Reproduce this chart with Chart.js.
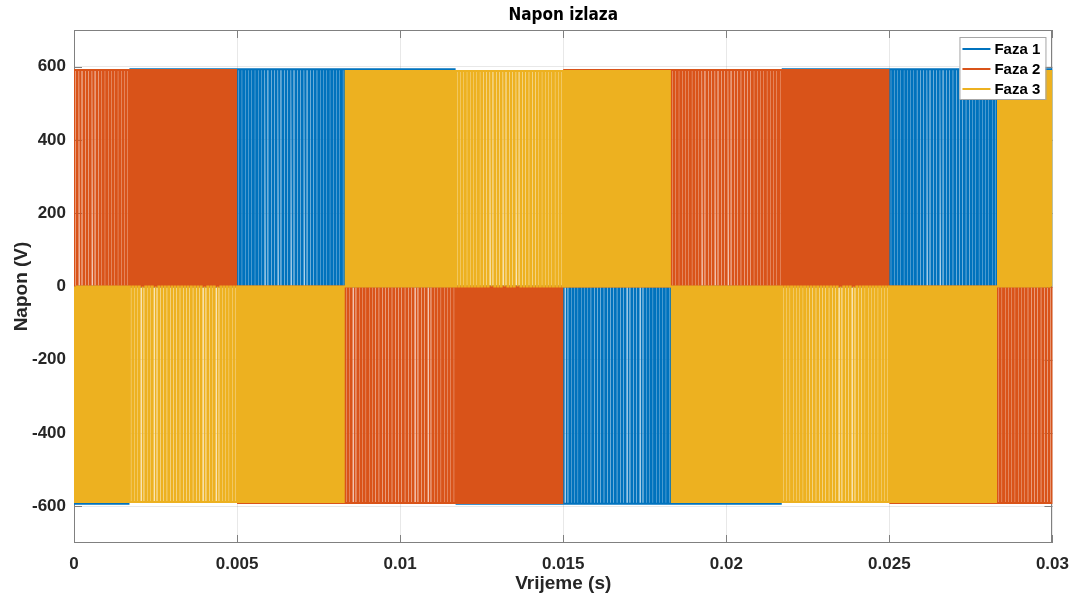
<!DOCTYPE html>
<html>
<head>
<meta charset="utf-8">
<title>Napon izlaza</title>
<script src="https://cdn.jsdelivr.net/npm/chart.js@4.4.1/dist/chart.umd.min.js"></script>
<style>
  html, body { margin: 0; padding: 0; background: #fff; }
  #wrap { width: 1080px; height: 597px; position: relative; }
</style>
</head>
<body>
<div id="wrap"><canvas id="naponChart"></canvas></div>
<script>
// ============================================
// Napon izlaza — three phase PWM output voltage
// ============================================

// values
const PHASE_NAMES = ['Faza 1', 'Faza 2', 'Faza 3'];
const PHASE_COLORS = ['#0072BD', '#D95319', '#EDB120'];

// zero crossings of each phase (s), and the sign of the half cycle that follows each one
const FAZA1_ZEROS = [-0.00833, 0.00167, 0.01167, 0.02167, 0.03167];
const FAZA1_SIGNS = [-1, 1, -1, 1];
const FAZA2_ZEROS = [-0.005, 0.005, 0.015, 0.025, 0.035];
const FAZA2_SIGNS = [1, -1, 1, -1];
const FAZA3_ZEROS = [-0.00165, 0.00835, 0.01835, 0.02835, 0.03835];
const FAZA3_SIGNS = [-1, 1, -1, 1];

const PHASE_AMPLITUDE = [593, 591, 588];   // V, pulse height of each phase
const SWITCH_PERIOD = 0.0001;              // s, spacing of the stripes
// estimated pulse width (fraction of a switching period) across one half cycle:
// dense in the outer thirds, lightly striped in the middle third
const HALF_CYCLE_DUTY = [0.4, 0.5, 0.5, 0.55, 0.7, 0.74, 0.74, 0.7, 0.55, 0.5, 0.5, 0.4];

const X_TICKS = [0, 0.005, 0.01, 0.015, 0.02, 0.025, 0.03];
const Y_TICKS = [-600, -400, -200, 0, 200, 400, 600];

const FONT = "'Liberation Sans', Arial, Helvetica, sans-serif";
const TEXT_COLOR = '#262626';
const AXIS_COLOR = '#808080';

// pulse train of one phase, built from the values above
function buildPulses(zeros, signs, amp) {
  const pts = [{ x: 0, y: 0 }];
  const n = Math.round(X_TICKS[X_TICKS.length - 1] / SWITCH_PERIOD);
  for (let k = 0; k < n; k++) {
    const tc = (k + 0.5) * SWITCH_PERIOD;
    let i = 0;
    while (i < signs.length - 1 && tc >= zeros[i + 1]) i++;
    const pos = (tc - zeros[i]) / (zeros[i + 1] - zeros[i]);
    const d = HALF_CYCLE_DUTY[Math.min(HALF_CYCLE_DUTY.length - 1, Math.floor(pos * HALF_CYCLE_DUTY.length))];
    const v = signs[i] * amp;
    const a = tc - d * SWITCH_PERIOD / 2;
    const b = tc + d * SWITCH_PERIOD / 2;
    pts.push({ x: a, y: 0 }, { x: a, y: v }, { x: b, y: v }, { x: b, y: 0 });
  }
  return pts;
}

const traces = [
  buildPulses(FAZA1_ZEROS, FAZA1_SIGNS, PHASE_AMPLITUDE[0]),
  buildPulses(FAZA2_ZEROS, FAZA2_SIGNS, PHASE_AMPLITUDE[1]),
  buildPulses(FAZA3_ZEROS, FAZA3_SIGNS, PHASE_AMPLITUDE[2])
];

// box and inward tick marks, MATLAB style
const axesBox = {
  id: 'axesBox',
  beforeDatasetsDraw(chart) {
    const { ctx, chartArea: a, scales } = chart;
    ctx.save();
    ctx.strokeStyle = AXIS_COLOR;
    ctx.lineWidth = 1;
    ctx.beginPath();
    X_TICKS.forEach(v => {
      const x = Math.round(scales.x.getPixelForValue(v)) + 0.5;
      ctx.moveTo(x, a.bottom); ctx.lineTo(x, a.bottom - 8);
      ctx.moveTo(x, a.top); ctx.lineTo(x, a.top + 8);
    });
    Y_TICKS.forEach(v => {
      const y = Math.round(scales.y.getPixelForValue(v)) + 0.5;
      ctx.moveTo(a.left, y); ctx.lineTo(a.left + 8, y);
      ctx.moveTo(a.right, y); ctx.lineTo(a.right - 8, y);
    });
    ctx.stroke();
    ctx.strokeRect(Math.round(a.left) + 0.5, Math.round(a.top) + 0.5,
                   Math.round(a.width) - 1, Math.round(a.height) - 1);
    ctx.restore();
  }
};

// legend box in the top right corner
const boxLegend = {
  id: 'boxLegend',
  afterDraw(chart) {
    const { ctx, chartArea: a } = chart;
    const w = 86, h = 62;
    const x0 = a.right - 93, y0 = a.top + 7;
    ctx.save();
    ctx.fillStyle = '#fff';
    ctx.fillRect(x0, y0, w, h);
    ctx.strokeStyle = '#a6a6a6';
    ctx.lineWidth = 1;
    ctx.strokeRect(x0 + 0.5, y0 + 0.5, w, h);
    ctx.font = 'bold 15px ' + FONT;
    ctx.textBaseline = 'middle';
    PHASE_NAMES.forEach((name, i) => {
      const y = y0 + 12 + i * 20;
      ctx.strokeStyle = PHASE_COLORS[i];
      ctx.lineWidth = 2;
      ctx.beginPath();
      ctx.moveTo(x0 + 3, y); ctx.lineTo(x0 + 31, y);
      ctx.stroke();
      ctx.fillStyle = '#000';
      ctx.fillText(name, x0 + 35, y + 1);
    });
    ctx.restore();
  }
};

new Chart(document.getElementById('naponChart'), {
  type: 'line',
  data: {
    datasets: PHASE_NAMES.map((name, i) => ({
      label: name,
      data: traces[i],
      borderColor: PHASE_COLORS[i],
      borderWidth: 2,
      pointRadius: 0,
      tension: 0,
      fill: false,
      order: 3 - i
    }))
  },
  options: {
    responsive: true,
    maintainAspectRatio: false,
    animation: false,
    parsing: false,
    normalized: true,
    layout: { padding: { left: 0, right: 23, top: 0, bottom: 0 } },
    plugins: {
      legend: { display: false },
      tooltip: { enabled: false },
      title: {
        display: true,
        text: 'Napon izlaza',
        fullSize: false,
        color: '#000',
        font: { family: "'Liberation Sans Narrow', 'DejaVu Sans Condensed', " + FONT, size: 17, weight: 'bold' },
        padding: { top: 5, bottom: 4.6 }
      }
    },
    scales: {
      x: {
        type: 'linear',
        min: 0,
        max: 0.03,
        afterBuildTicks: s => { s.ticks = X_TICKS.map(v => ({ value: v })); },
        afterFit: s => { s.height = 54; },
        grid: { color: 'rgba(0,0,0,0.09)', drawTicks: false },
        border: { display: false },
        ticks: {
          autoSkip: false, maxRotation: 0, padding: 11,
          color: TEXT_COLOR,
          font: { family: FONT, size: 17, weight: 'bold' },
          callback: v => String(+v.toFixed(4))
        },
        title: {
          display: true, text: 'Vrijeme (s)', color: TEXT_COLOR,
          font: { family: FONT, size: 19, weight: 'bold' },
          padding: { top: 0, bottom: 2 }
        }
      },
      y: {
        min: -700,
        max: 700,
        afterBuildTicks: s => { s.ticks = Y_TICKS.map(v => ({ value: v })); },
        afterFit: s => { s.width = 74; },
        grid: { color: 'rgba(0,0,0,0.09)', drawTicks: false },
        border: { display: false },
        ticks: {
          padding: 8,
          color: TEXT_COLOR,
          font: { family: FONT, size: 17, weight: 'bold' }
        },
        title: {
          display: true, text: 'Napon (V)', color: TEXT_COLOR,
          font: { family: FONT, size: 19, weight: 'bold' },
          padding: { top: 10, bottom: 0 }
        }
      }
    }
  },
  plugins: [axesBox, boxLegend]
});
</script>
</body>
</html>
